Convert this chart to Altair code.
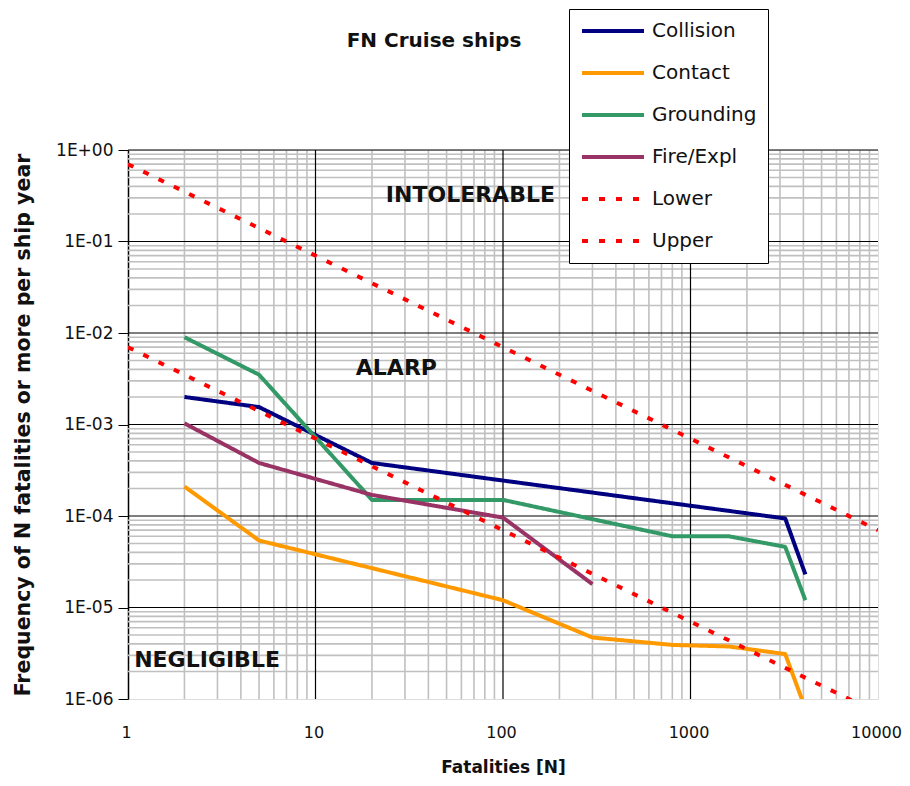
import altair as alt
import pandas as pd

# ---------------- data ----------------
SERIES = ["Collision", "Contact", "Grounding", "Fire/Expl", "Lower", "Upper"]
COLORS = ["#000080", "#FF9900", "#339966", "#993366", "#FF0000", "#FF0000"]

collision_n = [2, 5, 20, 3200, 4100]
collision_f = [2.0e-3, 1.55e-3, 3.8e-4, 9.4e-5, 2.3e-5]

contact_n = [2, 5, 100, 300, 800, 1600, 3200, 4000]
contact_f = [2.1e-4, 5.4e-5, 1.2e-5, 4.7e-6, 3.9e-6, 3.75e-6, 3.1e-6, 9.0e-7]

grounding_n = [2, 5, 20, 100, 800, 1600, 3200, 4100]
grounding_f = [9.0e-3, 3.5e-3, 1.5e-4, 1.5e-4, 6.0e-5, 6.0e-5, 4.6e-5, 1.2e-5]

fire_n = [2, 5, 20, 100, 300]
fire_f = [1.03e-3, 3.8e-4, 1.7e-4, 9.6e-5, 1.8e-5]

lower_n = [1, 10000]
lower_f = [7.0e-3, 7.0e-7]

upper_n = [1, 10000]
upper_f = [0.7, 7.0e-5]

region_labels = ["INTOLERABLE", "ALARP", "NEGLIGIBLE"]
region_n = [67, 27, 2.64]
region_f = [0.32, 4.1e-3, 2.67e-6]

x_ticks = [1, 10, 100, 1000, 10000]
y_ticks = [1e-6, 1e-5, 1e-4, 1e-3, 1e-2, 1e-1, 1]

TITLE = "FN Cruise ships"
X_TITLE = "Fatalities [N]"
Y_TITLE = "Frequency of N fatalities or more per ship year"

# ---------------- tables ----------------
rows = []
for name, ns, fs in [
    ("Collision", collision_n, collision_f),
    ("Contact", contact_n, contact_f),
    ("Grounding", grounding_n, grounding_f),
    ("Fire/Expl", fire_n, fire_f),
    ("Lower", lower_n, lower_f),
    ("Upper", upper_n, upper_f),
]:
    for n, f in zip(ns, fs):
        rows.append({"series": name, "N": n, "F": f})
lines_df = pd.DataFrame(rows)

x_minor = [m * 10 ** k for k in range(0, 4) for m in range(2, 10)]
y_minor = [m * 10.0 ** k for k in range(-6, 0) for m in range(2, 10)]
x_major = x_ticks[1:-1]
y_major = y_ticks[1:]

regions_df = pd.DataFrame({"label": region_labels, "N": region_n, "F": region_f})

FONT = "DejaVu Sans"

xscale = alt.Scale(type="log", domain=[1, 10000], nice=False)
yscale = alt.Scale(type="log", domain=[1e-6, 1], nice=False)

xaxis = alt.Axis(
    values=x_ticks, format="d", grid=False, ticks=False, tickSize=0, domain=False,
    labelFont=FONT, labelFontSize=16, labelColor="#111111", labelPadding=25,
    labelOffset=-2,
    titleFont=FONT, titleFontSize=17, titleFontWeight="bold", titleColor="#111111",
    titlePadding=19, labelFlush=False,
)
yaxis = alt.Axis(
    values=y_ticks, grid=False, ticks=True, tickSize=10, tickColor="#000000",
    domain=True, domainColor="#000000", domainWidth=1.5,
    labelExpr="datum.value >= 1 ? '1E+00' : '1E-0' + round(-log(datum.value)/LN10)",
    labelFont=FONT, labelFontSize=17, labelColor="#111111", labelPadding=5,
    titleFont=FONT, titleFontSize=20.5, titleFontWeight="bold", titleColor="#111111",
    titlePadding=22, labelFlush=False,
)


def X(field):
    return alt.X(field, type="quantitative", scale=xscale, axis=xaxis, title=X_TITLE)


def Y(field):
    return alt.Y(field, type="quantitative", scale=yscale, axis=yaxis, title=Y_TITLE)


vminor = alt.Chart(pd.DataFrame({"N": x_minor})).mark_rule(
    color="#C0C0C0", strokeWidth=1.6).encode(x=X("N"))
hminor = alt.Chart(pd.DataFrame({"F": y_minor})).mark_rule(
    color="#C0C0C0", strokeWidth=1.6).encode(y=Y("F"))
vmajor = alt.Chart(pd.DataFrame({"N": x_major})).mark_rule(
    color="#000000", strokeWidth=1.2).encode(x=X("N"))
hmajor = alt.Chart(pd.DataFrame({"F": y_major})).mark_rule(
    color="#000000", strokeWidth=1.2).encode(y=Y("F"))

legend = alt.Legend(
    title=None, orient="none", legendX=441, legendY=-141,
    fillColor="#FFFFFF", strokeColor="#000000", padding=11,
    symbolType="stroke", symbolSize=3844, symbolStrokeWidth=4,
    clipHeight=22, rowPadding=20, labelOffset=6,
    labelFont=FONT, labelFontSize=20, labelColor="#111111", labelLimit=300,
)

lines = alt.Chart(lines_df).mark_line(clip=True, strokeWidth=4, strokeJoin="round").encode(
    x=X("N"),
    y=Y("F"),
    color=alt.Color("series:N", scale=alt.Scale(domain=SERIES, range=COLORS), legend=legend),
    strokeDash=alt.StrokeDash(
        "series:N",
        scale=alt.Scale(domain=SERIES, range=[[1, 0], [1, 0], [1, 0], [1, 0], [6, 11], [6, 11]]),
        legend=legend,
    ),
    detail="series:N",
)

regions = alt.Chart(regions_df).mark_text(
    font=FONT, fontSize=22, fontWeight="bold", color="#111111"
).encode(x=X("N"), y=Y("F"), text="label:N")

title = alt.Chart(pd.DataFrame({"t": [TITLE]})).mark_text(
    font=FONT, fontSize=20, fontWeight="bold", color="#111111"
).encode(text="t:N", x=alt.value(306), y=alt.value(-109))

chart = alt.layer(vminor, hminor, vmajor, hmajor, regions, lines, title).properties(
    width=750, height=549,
    autosize=alt.AutoSizeParams(type="none"),
    padding={"left": 120, "top": 142, "right": 24, "bottom": 78},
).configure_view(
    fill="#FCF1DA", stroke="#808080", strokeWidth=1.5
).configure(font=FONT, background="#FFFFFF")

chart.save("out.html", embed_options={"renderer": "svg", "actions": False})
